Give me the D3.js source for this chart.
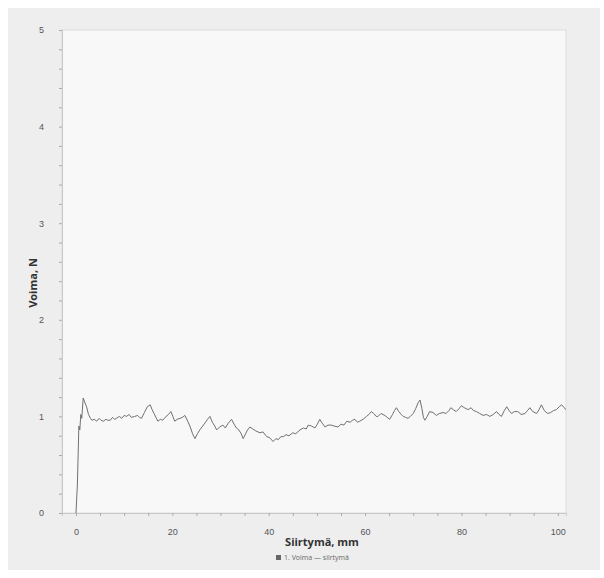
<!DOCTYPE html>
<html>
<head>
<meta charset="utf-8">
<script src="https://cdn.jsdelivr.net/npm/d3@7"></script>
<style>
  html, body { margin: 0; padding: 0; background: #ffffff; }
  svg { display: block; font-family: "Open Sans", "DejaVu Sans", sans-serif; }
</style>
</head>
<body>
<div id="chart"></div>
<script>
// displacement (mm) and force (N)
const siirtyma = [0, 0.3, 0.6, 0.8, 1.0, 1.2, 1.5, 1.8, 2.2, 2.6, 3.0, 3.3, 3.8, 4.3, 4.8, 5.2, 5.7, 6.2, 6.6, 7.1,
  7.6, 8.0, 8.4, 9.0, 9.5, 10.0, 10.5, 11.0, 11.5, 12.2, 12.8, 13.2, 13.6, 14.2, 14.8, 15.4, 15.8, 16.2, 16.6, 17.0,
  17.5, 18.0, 18.5, 19.2, 19.7, 20.1, 20.5, 21.0, 21.6, 22.1, 22.6, 23.2, 23.8, 24.2, 24.7, 25.2, 25.7, 26.3, 26.9, 27.3,
  27.8, 28.3, 28.8, 29.2, 29.8, 30.5, 31.0, 31.6, 32.3, 32.8, 33.3, 33.8, 34.3, 34.7, 35.2, 35.6, 36.1, 36.7, 37.3, 38.2,
  38.8, 39.6, 40.2, 40.9, 41.5, 42.0, 42.5, 43.0, 43.6, 44.2, 45.0, 45.6, 46.5, 47.2, 47.8, 48.2, 48.9, 49.6, 50.1, 50.6,
  51.1, 51.7, 52.3, 53.0, 53.6, 54.4, 55.0, 55.6, 56.2, 56.9, 57.4, 57.9, 58.4, 58.9, 59.6, 60.3, 60.8, 61.3, 61.8, 62.3,
  62.7, 63.3, 64.1, 64.6, 65.1, 65.7, 66.1, 66.5, 67.0, 67.5, 67.9, 68.4, 68.9, 69.4, 70.0, 70.5, 71.0, 71.4, 71.8, 72.1,
  72.4, 72.9, 73.4, 74.1, 74.8, 75.4, 76.2, 76.8, 77.4, 77.8, 78.3, 78.9, 79.5, 80.0, 80.6, 81.4, 82.0, 82.5, 83.1, 83.8,
  84.5, 85.2, 85.9, 86.6, 87.3, 87.8, 88.3, 88.9, 89.4, 89.9, 90.4, 91.0, 91.7, 92.4, 93.2, 93.7, 94.2, 94.8, 95.6, 96.1,
  96.6, 97.2, 97.9, 98.5, 99.1, 99.7, 100.3, 100.8, 101.3, 101.7];
const voima = [0, 0.3, 0.9, 0.86, 1.02, 0.98, 1.19, 1.15, 1.10, 1.02, 0.98, 0.96, 0.97, 0.95, 0.98, 0.96, 0.95, 0.97, 0.96, 0.96,
  0.99, 0.97, 0.98, 1.0, 0.98, 1.01, 1.0, 1.02, 0.99, 1.0, 1.01, 0.99, 0.98, 1.04, 1.1, 1.12, 1.07, 1.03, 0.99, 0.95,
  0.97, 0.96, 0.99, 1.02, 1.05, 1.0, 0.95, 0.97, 0.98, 0.99, 1.01, 0.95, 0.88, 0.82, 0.77, 0.82, 0.86, 0.9, 0.94, 0.97,
  1.0, 0.94, 0.9, 0.86, 0.89, 0.91, 0.88, 0.93, 0.97, 0.92, 0.88, 0.86, 0.82, 0.77, 0.82, 0.86, 0.89, 0.87, 0.85, 0.83,
  0.84, 0.79, 0.78, 0.74, 0.77, 0.76, 0.79, 0.79, 0.81, 0.8, 0.83, 0.82, 0.86, 0.88, 0.87, 0.91, 0.9, 0.88, 0.92, 0.97,
  0.93, 0.89, 0.91, 0.91, 0.9, 0.89, 0.92, 0.91, 0.95, 0.94, 0.96, 0.97, 0.94, 0.95, 0.97, 1.0, 1.02, 1.05, 1.03, 1.0,
  1.0, 1.03, 1.01, 0.99, 0.97, 1.02, 1.06, 1.09, 1.05, 1.02, 1.0, 0.99, 0.98, 1.0, 1.03, 1.08, 1.14, 1.17, 1.08, 0.99,
  0.96, 1.0, 1.05, 1.04, 1.01, 1.03, 1.04, 1.03, 1.06, 1.09, 1.07, 1.05, 1.08, 1.11, 1.09, 1.07, 1.09, 1.06, 1.05, 1.03,
  1.01, 1.02, 1.0, 1.02, 1.05, 1.02, 1.0, 1.06, 1.10, 1.06, 1.03, 1.05, 1.05, 1.02, 1.03, 1.06, 1.09, 1.05, 1.03, 1.07,
  1.12, 1.06, 1.03, 1.04, 1.06, 1.07, 1.1, 1.12, 1.09, 1.07];

const xTicks = [0, 20, 40, 60, 80, 100];
const yTicks = [0, 1, 2, 3, 4, 5];
const xLabel = "Siirtymä, mm";
const yLabel = "Voima, N";
const legendLabel = "1. Voima — siirtymä";

const width = 604, height = 578;
const plot = { left: 62, right: 566, top: 30, bottom: 513 };

const svg = d3.select("#chart").append("svg")
  .attr("width", width)
  .attr("height", height);

// paper and plot panel
svg.append("rect")
  .attr("x", 8).attr("y", 8)
  .attr("width", 592).attr("height", 562)
  .attr("fill", "#eeeeef");

svg.append("rect")
  .attr("x", plot.left).attr("y", plot.top)
  .attr("width", plot.right - plot.left).attr("height", plot.bottom - plot.top)
  .attr("fill", "#f8f8f9")
  .attr("stroke", "#dcdcdc");

const x = d3.scaleLinear()
  .domain([-2.9, 101.7])
  .range([plot.left, plot.right]);

const y = d3.scaleLinear()
  .domain([0, 5])
  .range([plot.bottom, plot.top]);

// minor ticks
const xAxisMinor = g => g
  .attr("transform", `translate(0,${plot.bottom})`)
  .call(d3.axisBottom(x).tickValues(d3.range(0, 101, 5)).tickSize(3).tickFormat(""))
  .call(g => g.select(".domain").attr("stroke", "#c8c8c8"))
  .call(g => g.selectAll(".tick line").attr("stroke", "#aaaaaa"));

const yAxisMinor = g => g
  .attr("transform", `translate(${plot.left},0)`)
  .call(d3.axisLeft(y).tickValues(d3.range(0, 5.01, 0.2)).tickSize(3).tickFormat(""))
  .call(g => g.select(".domain").attr("stroke", "#c8c8c8"))
  .call(g => g.selectAll(".tick line").attr("stroke", "#aaaaaa"));

svg.append("g").call(xAxisMinor);
svg.append("g").call(yAxisMinor);

const xAxis = g => g
  .attr("transform", `translate(0,${plot.bottom})`)
  .call(d3.axisBottom(x).tickValues(xTicks).tickSize(0).tickPadding(16))
  .call(g => g.select(".domain").remove())
  .call(g => g.selectAll(".tick text")
    .attr("fill", "#555")
    .attr("font-size", 9));

const yAxis = g => g
  .attr("transform", `translate(${plot.left},0)`)
  .call(d3.axisLeft(y).tickValues(yTicks).tickFormat(d3.format("d")).tickSize(0).tickPadding(18))
  .call(g => g.select(".domain").remove())
  .call(g => g.selectAll(".tick text")
    .attr("fill", "#555")
    .attr("font-size", 9));

svg.append("g").call(xAxis);
svg.append("g").call(yAxis);

// axis titles
svg.append("text")
  .attr("x", 322).attr("y", 546)
  .attr("text-anchor", "middle")
  .attr("font-size", 11)
  .attr("font-weight", "bold")
  .attr("fill", "#333")
  .text(xLabel);

svg.append("text")
  .attr("transform", `translate(37,283) rotate(-90)`)
  .attr("text-anchor", "middle")
  .attr("font-size", 11)
  .attr("font-weight", "bold")
  .attr("fill", "#333")
  .text(yLabel);

// legend
const legend = svg.append("g").attr("transform", "translate(318,560)");
legend.append("rect")
  .attr("x", -42).attr("y", -5)
  .attr("width", 5).attr("height", 5)
  .attr("fill", "#666");
legend.append("text")
  .attr("x", -34).attr("y", 0)
  .attr("font-size", 7)
  .attr("fill", "#666")
  .text(legendLabel);

const line = d3.line()
  .x((d, i) => x(siirtyma[i]))
  .y(d => y(d));

svg.append("path")
  .datum(voima)
  .attr("fill", "none")
  .attr("stroke", "#707070")
  .attr("stroke-width", 1)
  .attr("stroke-linejoin", "round")
  .attr("d", line);
</script>
</body>
</html>
